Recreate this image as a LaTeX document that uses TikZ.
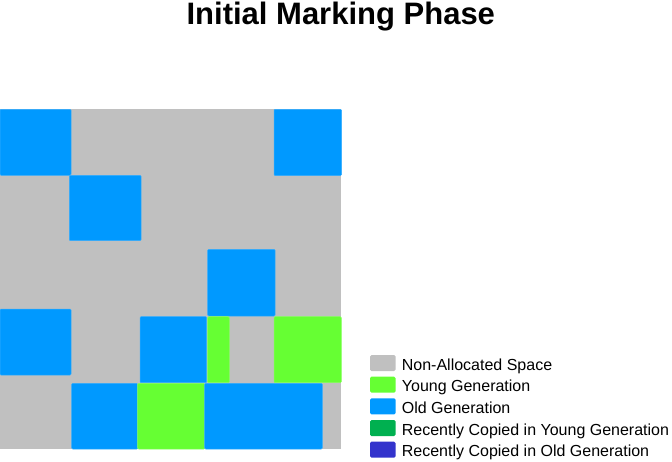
\documentclass[tikz,border=0pt]{standalone}
\usepackage{fontspec}
\setmainfont{Liberation Sans}
\definecolor{nalloc}{HTML}{C0C0C0}
\definecolor{young}{HTML}{66FF33}
\definecolor{old}{HTML}{0099FF}
\definecolor{cyoung}{HTML}{00B050}
\definecolor{cold}{HTML}{3333CC}
\tikzset{
  blk/.style={fill=#1, draw=#1!80!white, line width=0.5pt, rounded corners=1pt},
  swatch/.style={fill=#1, rounded corners=1.5pt},
  legtext/.style={anchor=base west, inner sep=0pt, font=\fontsize{16}{18}\selectfont}
}
\begin{document}
\begin{tikzpicture}[x=1pt,y=-1pt]
\useasboundingbox (0,0) rectangle (672,461);
% title
\node[anchor=base, inner sep=0pt, font=\fontsize{31}{34}\bfseries] (title) at (340.8,24.5) {Initial Marking Phase};
% memory area
\fill[nalloc] (0,109.3) rectangle (341,449);
\draw[blk=old] (0,109.3) rectangle (71,175.3);
\draw[blk=old] (69.3,175.3) rectangle (141,240.7);
\draw[blk=old] (274,109.3) rectangle (341.5,175.5);
\draw[blk=old] (207.7,249.3) rectangle (275,316);
\draw[blk=old] (0,309) rectangle (71,375);
\draw[blk=old] (140,316.7) rectangle (206.7,382.7);
\draw[blk=young] (207.7,316.7) rectangle (229.3,382.7);
\draw[blk=young] (274,316.7) rectangle (341.3,382.7);
\draw[blk=old] (71.7,383.3) rectangle (137.7,449);
\draw[blk=young] (137.7,383.3) rectangle (204.7,449);
\draw[blk=old] (204.7,383.3) rectangle (322.3,449);
% legend
\fill[swatch=nalloc] (370,355) rectangle (395.7,371);
\fill[swatch=young] (370,376.7) rectangle (395.7,392.7);
\fill[swatch=old] (370,398.3) rectangle (395.7,414.3);
\fill[swatch=cyoung] (370,420) rectangle (395.7,436);
\fill[swatch=cold] (370,441.7) rectangle (395.7,457.7);
\node[legtext] (l1) at (401.7,370) {Non-Allocated Space};
\node[legtext] (l2) at (401.7,391.7) {Young Generation};
\node[legtext] (l3) at (401.7,413.3) {Old Generation};
\node[legtext] (l4) at (401.7,435) {Recently Copied in Young Generation};
\node[legtext] (l5) at (401.7,456.7) {Recently Copied in Old Generation};
\end{tikzpicture}
\end{document}
